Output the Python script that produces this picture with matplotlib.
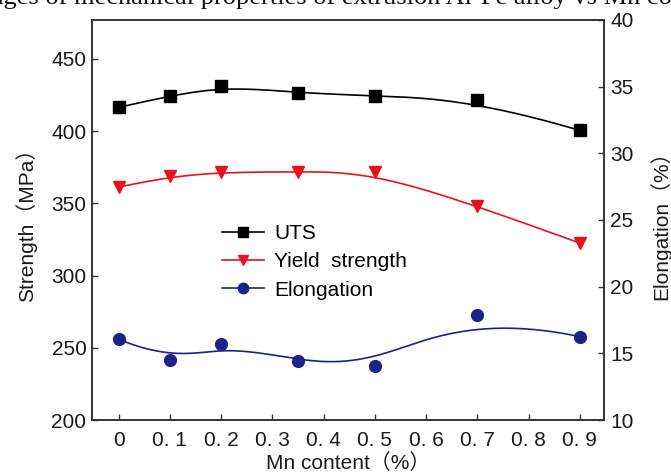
import numpy as np
import matplotlib
matplotlib.use("Agg")
import matplotlib.pyplot as plt
from matplotlib.lines import Line2D

# ---- data ----
mn_content = [0, 0.1, 0.2, 0.35, 0.5, 0.7, 0.9]
uts = [416.5, 424.5, 431.5, 426.5, 424.5, 421.5, 400.5]
yield_strength = [361.3, 368.7, 371.7, 371.8, 372.0, 348.2, 322.5]
elongation = [16.05, 14.48, 15.7, 14.43, 14.05, 17.88, 16.25]

x_ticks = [0, 0.1, 0.2, 0.3, 0.4, 0.5, 0.6, 0.7, 0.8, 0.9]
x_tick_labels = ["0", "0. 1", "0. 2", "0. 3", "0. 4", "0. 5", "0. 6", "0. 7", "0. 8", "0. 9"]
left_ticks = [200, 250, 300, 350, 400, 450]
right_ticks = [10, 15, 20, 25, 30, 35, 40]

FONT = ["Liberation Sans", "Noto Sans CJK SC", "DejaVu Sans"]
plt.rcParams["font.family"] = FONT


def bspline_curve(xs, ys, n=300, k=3):
    """Clamped uniform B-spline using the data points as control points."""
    P = np.column_stack([xs, ys]).astype(float)
    m = len(P)
    knots = np.concatenate([np.zeros(k), np.linspace(0, 1, m - k + 1), np.ones(k)])
    t = np.linspace(0, 1, n)
    t[-1] = 1 - 1e-12
    N = np.zeros((n, len(knots) - 1))
    for i in range(len(knots) - 1):
        N[:, i] = ((t >= knots[i]) & (t < knots[i + 1])).astype(float)
    for d in range(1, k + 1):
        Nn = np.zeros((n, len(knots) - 1 - d))
        for i in range(len(knots) - 1 - d):
            a = knots[i + d] - knots[i]
            b = knots[i + d + 1] - knots[i + 1]
            term = np.zeros(n)
            if a > 0:
                term += (t - knots[i]) / a * N[:, i]
            if b > 0:
                term += (knots[i + d + 1] - t) / b * N[:, i + 1]
            Nn[:, i] = term
        N = Nn
    C = N @ P
    return C[:, 0], C[:, 1]


W, H = 671, 473
fig = plt.figure(figsize=(W / 100, H / 100), dpi=100)
ax = fig.add_axes([92 / W, 1 - 420 / H, (603.5 - 92) / W, (420 - 20) / H])
ax2 = ax.twinx()

black = "#000000"
red = "#e8121c"
blue = "#1c2288"
lw = 1.2
ms = 8.5

cx, cy = bspline_curve(mn_content, uts)
ax.plot(cx, cy, color=black, lw=lw)
ax.plot(mn_content, uts, "s", color=black, ms=ms, ls="none")

cx, cy = bspline_curve(mn_content, yield_strength)
ax.plot(cx, cy, color=red, lw=lw)
ax.plot(mn_content, yield_strength, "v", color=red, ms=ms, ls="none")

cx, cy = bspline_curve(mn_content, elongation)
ax2.plot(cx, cy, color=blue, lw=lw)
ax2.plot(mn_content, elongation, "o", color=blue, ms=ms, ls="none")

ax.set_xlim(-0.052, 0.946)
ax.set_ylim(200, 477)
ax2.set_ylim(10, 40)

ax.set_xticks(x_ticks)
ax.set_xticklabels(x_tick_labels)
ax.set_yticks(left_ticks)
ax2.set_yticks(right_ticks)

fs = 15
tc = "#1a1a1a"
spine_c = "#333333"
for a in (ax, ax2):
    for s in a.spines.values():
        s.set_linewidth(1.2)
        s.set_color(spine_c)
ax.tick_params(axis="both", direction="in", length=4.5, width=1.0, color=spine_c,
               labelsize=fs, labelcolor=tc, pad=4)
ax.tick_params(axis="x", pad=8)
ax2.tick_params(axis="y", direction="in", length=4.5, width=1.0, color=spine_c,
                labelsize=fs, labelcolor=tc, pad=5)

ax.set_xlabel("Mn content（%）", fontsize=fs, color=tc, labelpad=2)
ax.set_ylabel("Strength（MPa）", fontsize=fs, color=tc, labelpad=10)
ax2.set_ylabel("Elongation（%）", fontsize=fs, color=tc, labelpad=11)

handles = [
    Line2D([], [], color=black, lw=lw, marker="s", ms=ms - 1),
    Line2D([], [], color=red, lw=lw, marker="v", ms=ms - 1),
    Line2D([], [], color=blue, lw=lw, marker="o", ms=ms - 1),
]
leg = ax.legend(handles, ["UTS", "Yield  strength", "Elongation"], frameon=False,
                fontsize=fs, handlelength=2.0, handletextpad=0.5, labelspacing=0.45,
                loc="upper left", bbox_to_anchor=(222 / W, 1 - 224 / H),
                bbox_transform=fig.transFigure, borderaxespad=0, borderpad=0)

fig.text(-52 / W, 1 - 4 / H,
         "Changes of mechanical properties of extrusion Al-Fe alloy vs Mn content",
         family=["Liberation Serif", "DejaVu Serif"], fontsize=19, ha="left",
         va="baseline", color="#111111")

fig.savefig("out.png", dpi=100)
